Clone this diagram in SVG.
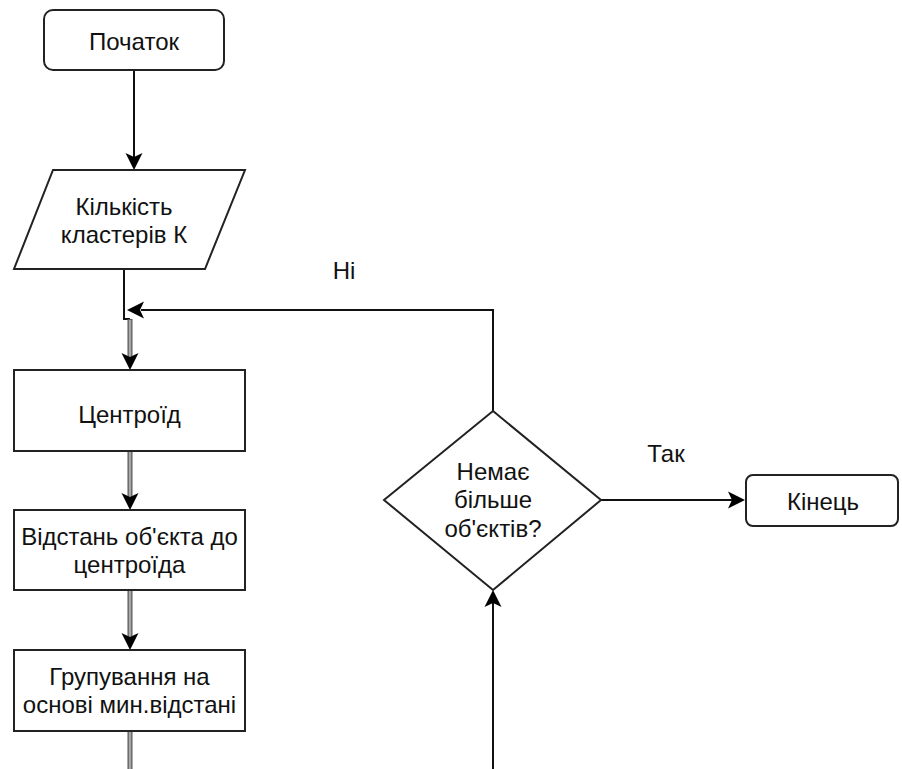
<svg xmlns="http://www.w3.org/2000/svg" width="902" height="769" viewBox="0 0 902 769">
<style>
.shape{fill:#fff;stroke:#222;stroke-width:2}
.t{font-family:"Liberation Sans",Arial,sans-serif;font-size:24px;fill:#111;text-anchor:middle}
.ln{fill:none;stroke:#111;stroke-width:2}
.g1{fill:none;stroke:#555;stroke-width:5}
.g2{fill:none;stroke:#a8a8a8;stroke-width:2.6}
.ah{fill:#000}
</style>
<defs>
<path id="arr" d="M0,0 L-8.5,-17 L0,-13 L8.5,-17 Z"/>
</defs>
<rect width="902" height="769" fill="#fff"/>
<g id="connectors">
<path class="ln" d="M134,70 V157"/>
<use href="#arr" class="ah" transform="translate(134,170)"/>
<path class="ln" d="M124,269 V319 H130"/>
<path class="g1" d="M130,319 V357"/><path class="g2" d="M130,320 V357"/>
<use href="#arr" class="ah" transform="translate(130,370)"/>
<path class="g1" d="M130,451 V497"/><path class="g2" d="M130,452 V497"/>
<use href="#arr" class="ah" transform="translate(130,510)"/>
<path class="g1" d="M130,590 V637"/><path class="g2" d="M130,591 V637"/>
<use href="#arr" class="ah" transform="translate(130,650)"/>
<path class="g1" d="M130,731 V770"/><path class="g2" d="M130,732 V770"/>
<path class="ln" d="M493,411 V310 H141"/>
<use href="#arr" class="ah" transform="translate(127,310) rotate(90)"/>
<path class="ln" d="M601,500 H732"/>
<use href="#arr" class="ah" transform="translate(745,500) rotate(-90)"/>
<path class="ln" d="M493,770 V603"/>
<use href="#arr" class="ah" transform="translate(493,590) rotate(180)"/>
<text class="t" x="344" y="279">Ні</text>
<text class="t" x="666" y="462">Так</text>
</g>
<g id="start">
<rect class="shape" x="44" y="10" width="180" height="60" rx="9"/>
<text class="t" x="134" y="50">Початок</text>
</g>
<g id="input">
<polygon class="shape" points="53,170 245,170 205,269 14,269"/>
<text class="t" x="124" y="215">Кількість</text>
<text class="t" x="124" y="243">кластерів К</text>
</g>
<g id="centroid">
<rect class="shape" x="14" y="370" width="231" height="81"/>
<text class="t" x="129.5" y="423">Центроїд</text>
</g>
<g id="distance">
<rect class="shape" x="14" y="510" width="231" height="80"/>
<text class="t" x="129.5" y="545">Відстань об'єкта до</text>
<text class="t" x="129.5" y="573">центроїда</text>
</g>
<g id="grouping">
<rect class="shape" x="14" y="650" width="231" height="81"/>
<text class="t" x="129.5" y="685">Групування на</text>
<text class="t" x="129.5" y="713">основі мин.відстані</text>
</g>
<g id="decision">
<polygon class="shape" points="493,411 601,500 493,590 384,500"/>
<text class="t" x="493" y="480">Немає</text>
<text class="t" x="493" y="508">більше</text>
<text class="t" x="493" y="537">об'єктів?</text>
</g>
<g id="end">
<rect class="shape" x="746" y="475" width="152" height="51" rx="7"/>
<text class="t" x="823" y="510">Кінець</text>
</g>
</svg>
